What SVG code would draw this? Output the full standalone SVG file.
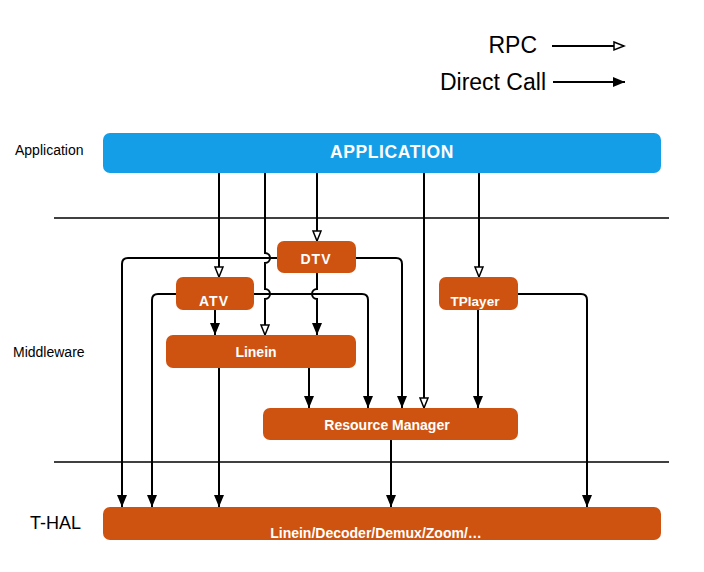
<svg xmlns="http://www.w3.org/2000/svg" width="704" height="572" viewBox="0 0 704 572">
<style>
.node{fill:#cf5310}
.app{fill:#159ee8}
.nt{font-family:"Liberation Sans",Arial,sans-serif;font-weight:bold;fill:#fff;text-anchor:middle}
.lbl{font-family:"Liberation Sans",Arial,sans-serif;fill:#000}
.c{fill:none;stroke:#000;stroke-width:2}
.div{stroke:#000;stroke-width:1.5}
</style>
<defs>
<marker id="filled" markerUnits="userSpaceOnUse" markerWidth="13" markerHeight="11" refX="12" refY="5" orient="auto">
<path d="M0,0 L12,5 L0,10 z" fill="#000"/>
</marker>
<marker id="hollow" markerUnits="userSpaceOnUse" markerWidth="13" markerHeight="11" refX="11" refY="5" orient="auto">
<path d="M1,1 L11,5 L1,9 z" fill="#fff" stroke="#000" stroke-width="1.5"/>
</marker>
</defs>
<rect width="704" height="572" fill="#fff"/>

<g id="legend">
<text class="lbl" x="537" y="53" font-size="23" text-anchor="end">RPC</text>
<text class="lbl" x="546" y="90" font-size="23" text-anchor="end">Direct Call</text>
<path class="c" d="M552,46 H624" marker-end="url(#hollow)"/>
<path class="c" d="M553,82 H625" marker-end="url(#filled)"/>
</g>

<g id="layers">
<text class="lbl" x="15" y="155" font-size="14">Application</text>
<text class="lbl" x="13" y="357" font-size="14">Middleware</text>
<text class="lbl" x="30" y="529" font-size="18">T-HAL</text>
<line class="div" x1="54" y1="218" x2="669" y2="218"/>
<line class="div" x1="54" y1="462" x2="669" y2="462"/>
</g>

<g id="connectors">
<path class="c" d="M219,173 V277" marker-end="url(#hollow)"/>
<path class="c" d="M265,173 V253 a5,5 0 0 1 0,10 V289 a5,5 0 0 1 0,10 V335" marker-end="url(#hollow)"/>
<path class="c" d="M317,173 V241" marker-end="url(#hollow)"/>
<path class="c" d="M424,173 V408" marker-end="url(#hollow)"/>
<path class="c" d="M479,173 V277" marker-end="url(#hollow)"/>
<path class="c" d="M277,258 H128 q-6,0 -6,6 V507" marker-end="url(#filled)"/>
<path class="c" d="M356,258 H396 q6,0 6,6 V408" marker-end="url(#filled)"/>
<path class="c" d="M317,273 V289 a5,5 0 0 0 0,10 V335" marker-end="url(#filled)"/>
<path class="c" d="M176,294 H158 q-6,0 -6,6 V507" marker-end="url(#filled)"/>
<path class="c" d="M254,294 H362 q6,0 6,6 V408" marker-end="url(#filled)"/>
<path class="c" d="M215,310 V335" marker-end="url(#filled)"/>
<path class="c" d="M219,368 V507" marker-end="url(#filled)"/>
<path class="c" d="M309,368 V408" marker-end="url(#filled)"/>
<path class="c" d="M391,440 V507" marker-end="url(#filled)"/>
<path class="c" d="M478,310 V408" marker-end="url(#filled)"/>
<path class="c" d="M518,294 H581 q6,0 6,6 V507" marker-end="url(#filled)"/>
</g>

<g id="application">
<rect class="app" x="103" y="133" width="558" height="40" rx="7"/>
<text class="nt" x="392" y="158" font-size="17.5" letter-spacing="0.6">APPLICATION</text>
</g>
<g id="dtv">
<rect class="node" x="277" y="241" width="79" height="32" rx="7"/>
<text class="nt" x="316" y="264" font-size="14" letter-spacing="1">DTV</text>
</g>
<g id="atv">
<rect class="node" x="176" y="277" width="78" height="33" rx="7"/>
<text class="nt" x="214" y="306" font-size="14" letter-spacing="1">ATV</text>
</g>
<g id="tplayer">
<rect class="node" x="439" y="277" width="79" height="33" rx="7"/>
<text class="nt" x="475" y="306" font-size="13.5">TPlayer</text>
</g>
<g id="linein">
<rect class="node" x="166" y="335" width="190" height="33" rx="7"/>
<text class="nt" x="256" y="357" font-size="14">Linein</text>
</g>
<g id="resource-manager">
<rect class="node" x="263" y="408" width="255" height="32" rx="7"/>
<text class="nt" x="387" y="430" font-size="14">Resource Manager</text>
</g>
<g id="thal">
<rect class="node" x="103" y="507" width="558" height="33" rx="7"/>
<text class="nt" x="376" y="538" font-size="14">Linein/Decoder/Demux/Zoom/…</text>
</g>
</svg>
